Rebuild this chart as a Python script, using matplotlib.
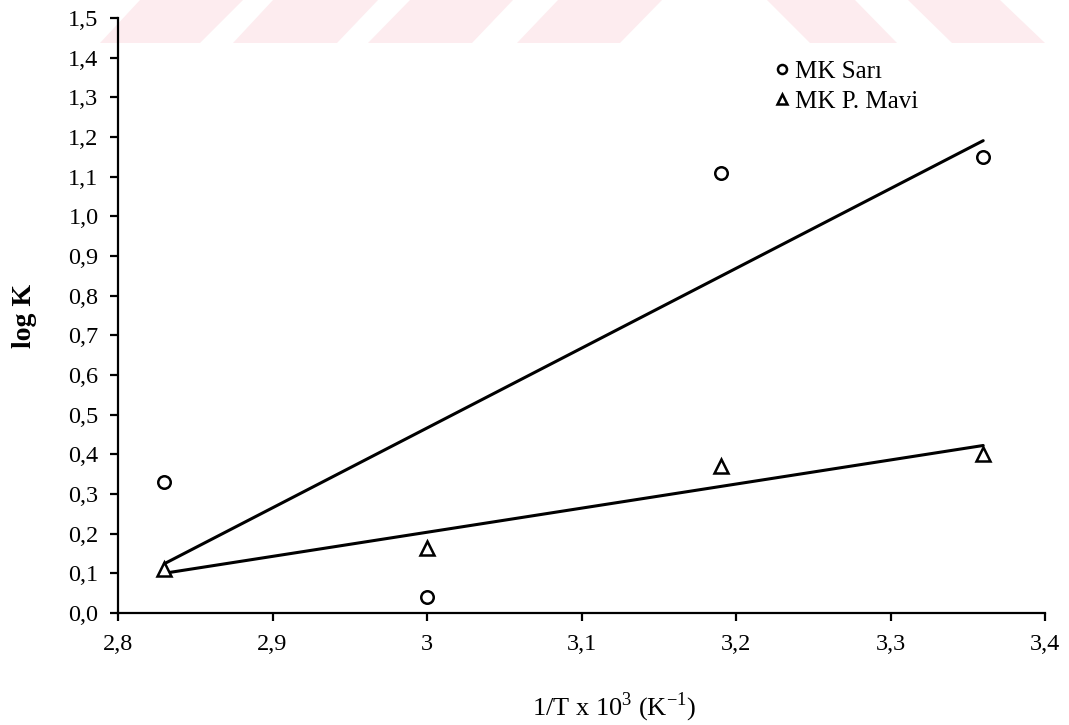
import numpy as np
import matplotlib
matplotlib.use("Agg")
import matplotlib.pyplot as plt
from matplotlib.patches import Polygon

# ---- data ----
x_vals = [2.83, 3.00, 3.19, 3.36]
sari = [0.33, 0.04, 1.11, 1.15]
mavi = [0.11, 0.165, 0.37, 0.40]
x_ticks = [2.8, 2.9, 3.0, 3.1, 3.2, 3.3, 3.4]
x_ticklabels = ["2,8", "2,9", "3", "3,1", "3,2", "3,3", "3,4"]
y_ticks = [i / 10 for i in range(16)]
y_ticklabels = [f"{v:.1f}".replace(".", ",") for v in y_ticks]
series_names = ["MK Sarı", "MK P. Mavi"]

plt.rcParams['font.family'] = ['Liberation Serif', 'DejaVu Serif']

W, H = 1069, 725
fig = plt.figure(figsize=(W / 100, H / 100), dpi=100)

# watermark band (decorative)
wm = [((140, 243), (100, 200)), ((273, 378), (233, 337)), ((410, 513), (368, 472)),
      ((558, 662), (517, 620)), ((767, 855), (810, 897)), ((908, 1000), (952, 1045))]
for (t0, t1), (b0, b1) in wm:
    pts = [(t0 / W, 1.0), (t1 / W, 1.0), (b1 / W, 1 - 43 / H), (b0 / W, 1 - 43 / H)]
    fig.patches.append(Polygon(pts, closed=True, transform=fig.transFigure,
                               facecolor='#fdecef', edgecolor='none', zorder=0))

ax = fig.add_axes([118 / W, 1 - 613 / H, (1045 - 118) / W, (613 - 18) / H])
ax.set_zorder(2)
ax.patch.set_alpha(0)

xs = np.array(x_vals)
for ys in (sari, mavi):
    k, b = np.polyfit(xs, np.array(ys), 1)
    ax.plot([xs.min(), xs.max()], [k * xs.min() + b, k * xs.max() + b],
            color='black', lw=2.2, zorder=2, solid_capstyle='round')

ax.plot(x_vals, sari, linestyle='none', marker='o', markersize=9,
        markerfacecolor='white', markeredgecolor='black', markeredgewidth=1.8,
        label=series_names[0], zorder=3)
ax.plot(x_vals, mavi, linestyle='none', marker='^', markersize=9.5,
        markerfacecolor='white', markeredgecolor='black', markeredgewidth=1.8,
        label=series_names[1], zorder=3)

ax.set_xlim(2.8, 3.4)
ax.set_ylim(0, 1.5)
ax.set_xticks(x_ticks)
ax.set_xticklabels(x_ticklabels)
ax.set_yticks(y_ticks)
ax.set_yticklabels(y_ticklabels)

for s in ['top', 'right']:
    ax.spines[s].set_visible(False)
for s in ['left', 'bottom']:
    ax.spines[s].set_linewidth(1.6)

ax.tick_params(axis='both', direction='out', length=6, width=1.6,
               labelsize=17.5, colors='black')
ax.tick_params(axis='y', pad=8)
ax.tick_params(axis='x', pad=9)

ax.set_ylabel("log K", fontsize=20, fontweight='bold')
ax.yaxis.set_label_coords(-0.087, 0.5)
ax.set_xlabel(r"1/T x 10$^{\mathregular{3}}$ (K$^{\mathregular{-1}}$)", fontsize=19)
ax.xaxis.set_label_coords(0.535, -0.13)

leg = ax.legend(loc='upper left', bbox_to_anchor=(0.699, 0.945), frameon=False,
                fontsize=18, handlelength=0.5, handletextpad=0.25,
                labelspacing=0.3, numpoints=1, borderaxespad=0)
for h in leg.legend_handles:
    h.set_markersize(6.5)
    h.set_markeredgewidth(1.8)

fig.savefig("out.png", dpi=100)
